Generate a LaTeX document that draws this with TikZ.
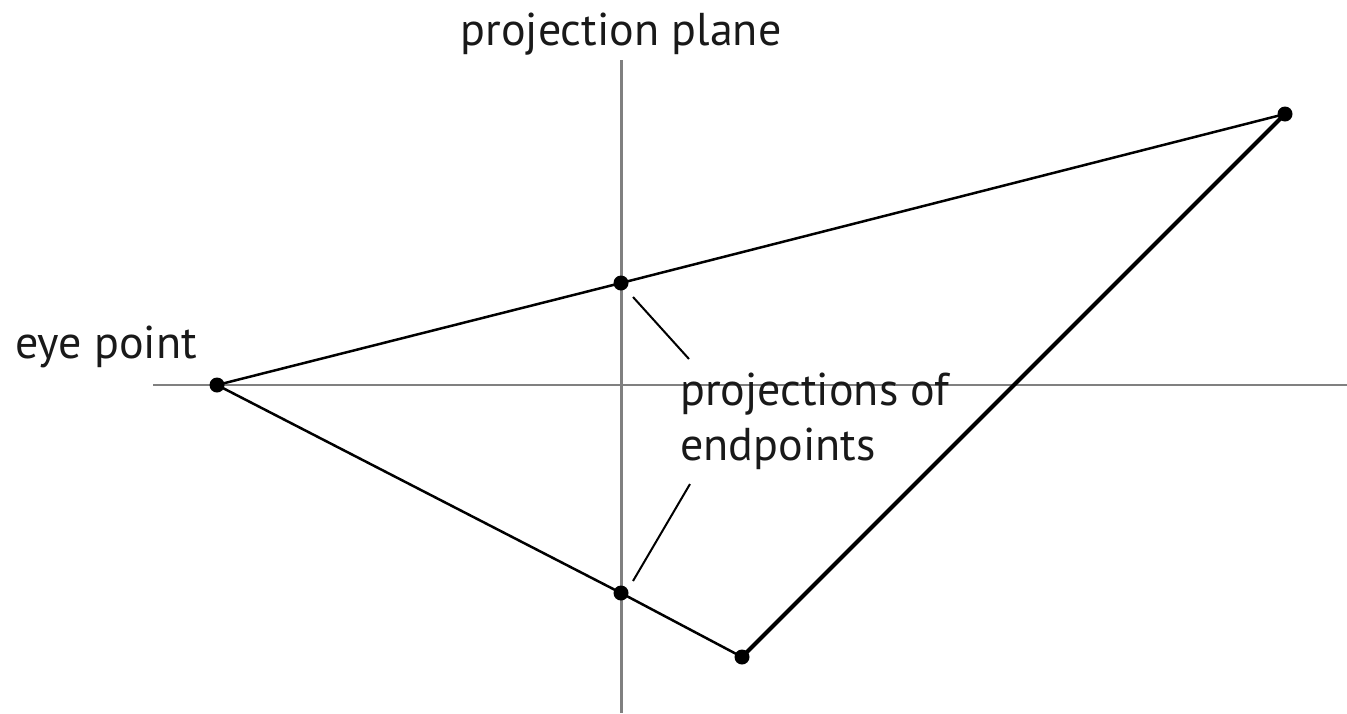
\documentclass[tikz,border=0pt]{standalone}
\usepackage{fontspec}
\setmainfont{PT Sans}
\begin{document}
\begin{tikzpicture}[x=1pt,y=-1pt,
  axis/.style={draw=black!50},
  ray/.style={draw=black,line width=2.5pt},
  seg/.style={draw=black,line width=4pt},
  dot/.style={circle,fill=black,inner sep=0pt,minimum size=15pt},
  lead/.style={draw=black,line width=2pt},
  lbl/.style={font=\fontsize{46}{55}\selectfont,inner sep=0pt,text=black!90}]
\useasboundingbox (0,0) rectangle (1347,713);
% axes
\coordinate (vtop) at (621,60);
\coordinate (vbot) at (621,713);
\coordinate (hl) at (153,385);
\coordinate (hr) at (1347,385);
\draw[axis,line width=3pt] (vtop) -- (vbot);
\draw[axis,line width=1.8pt] (hl) -- (hr);
% points
\node[dot] (eye) at (217,385) {};
\node[dot] (top) at (1285,114) {};
\node[dot] (bot) at (742,657) {};
\node[dot] (pu) at (621,283) {};
\node[dot] (pl) at (621,593) {};
% rays
\draw[ray] (eye.center) -- (pu.center) -- (top.center);
\draw[ray] (eye.center) -- (pl.center) -- (bot.center);
\draw[seg] (bot.center) -- (top.center);
% labels
\node[lbl,anchor=base] (pp) at (621,45) {projection plane};
\node[lbl,anchor=base west] (ep) at (15,358) {eye point};
\node[lbl,anchor=base west,align=left] (pe) at (680,460) {projections of\\endpoints};
% leaders
\coordinate (l1a) at (633,297);
\coordinate (l1b) at (689,359);
\coordinate (l2a) at (690,484);
\coordinate (l2b) at (633,581);
\draw[lead] (l1a) -- (l1b);
\draw[lead] (l2a) -- (l2b);
\end{tikzpicture}
\end{document}
